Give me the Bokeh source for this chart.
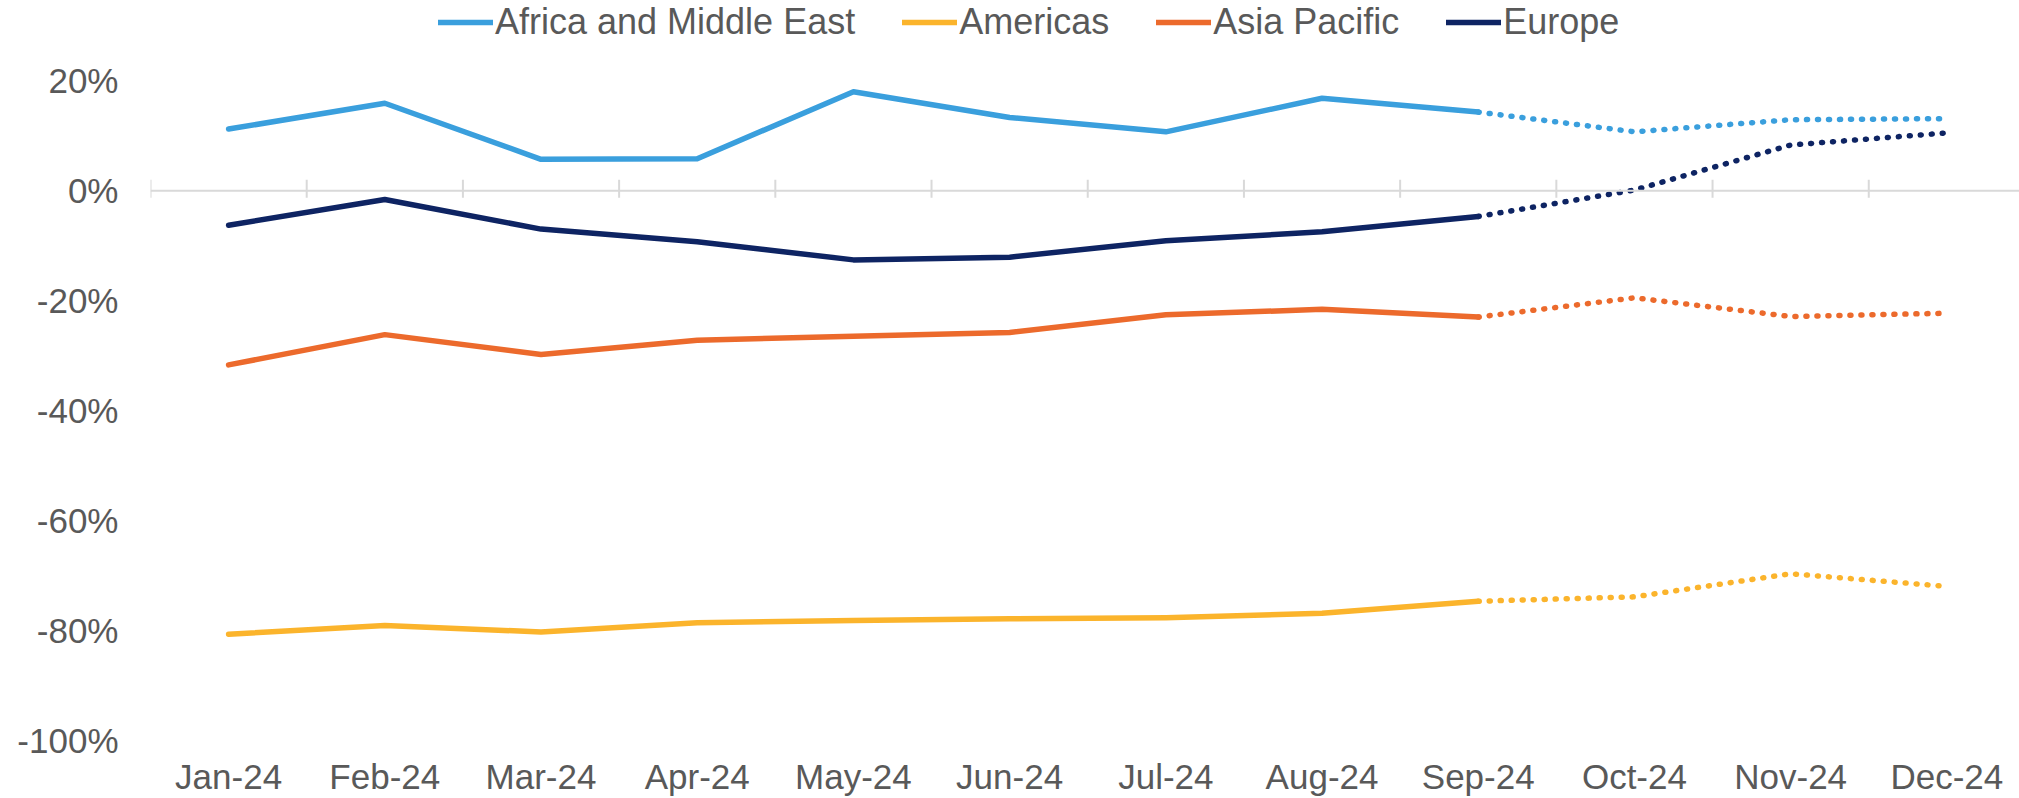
from bokeh.plotting import figure
from bokeh.models import (Range1d, FixedTicker, PrintfTickFormatter, Span,
                          Legend, LegendItem)
from bokeh.embed import file_html
from bokeh.resources import INLINE

months = ["Jan-24", "Feb-24", "Mar-24", "Apr-24", "May-24", "Jun-24",
          "Jul-24", "Aug-24", "Sep-24", "Oct-24", "Nov-24", "Dec-24"]
africa = [11.2, 15.9, 5.7, 5.8, 18.0, 13.3, 10.7, 16.8, 14.3, 10.7, 12.9, 13.1]
americas = [-80.7, -79.1, -80.3, -78.6, -78.2, -77.9, -77.7, -76.9, -74.7, -73.9, -69.7, -72.0]
asia = [-31.7, -26.2, -29.8, -27.2, -26.5, -25.8, -22.6, -21.6, -23.0, -19.5, -22.9, -22.3]
europe = [-6.3, -1.6, -7.0, -9.3, -12.6, -12.1, -9.1, -7.5, -4.7, 0.1, 8.3, 10.5]
y_ticks = [-100, -80, -60, -40, -20, 0, 20]
actual_count = 9  # Jan..Sep actual, Sep..Dec forecast (dotted)

series = [
    ("Africa and Middle East", africa, "#3A9FDD"),
    ("Americas", americas, "#FBB42C"),
    ("Asia Pacific", asia, "#EC6A2C"),
    ("Europe", europe, "#0E2463"),
]

TEXT = "#595959"
FONT = "Liberation Sans"

xs = [i + 0.5 for i in range(len(months))]

p = figure(width=2019, height=798, output_backend="svg", toolbar_location=None,
           x_range=Range1d(0, 11.965), y_range=Range1d(-100.4, 34.59),
           min_border_left=150, min_border_right=0, min_border_top=0,
           min_border_bottom=50)
p.outline_line_color = None
p.xgrid.visible = False
p.ygrid.visible = False

# axes
p.yaxis.ticker = FixedTicker(ticks=y_ticks)
p.yaxis.formatter = PrintfTickFormatter(format="%d%%")
p.yaxis.axis_line_color = None
p.yaxis.major_tick_line_color = None
p.yaxis.minor_tick_line_color = None
p.yaxis.major_label_text_font_size = "35px"
p.yaxis.major_label_text_color = TEXT
p.yaxis.major_label_text_font = FONT
p.yaxis.major_label_standoff = 26

p.xaxis.ticker = FixedTicker(ticks=xs)
p.xaxis.major_label_overrides = {x: m for x, m in zip(xs, months)}
p.xaxis.axis_line_color = None
p.xaxis.major_tick_line_color = None
p.xaxis.minor_tick_line_color = None
p.xaxis.major_label_text_font_size = "35px"
p.xaxis.major_label_text_color = TEXT
p.xaxis.major_label_text_font = FONT
p.xaxis.major_label_standoff = 8

# zero line with category boundary ticks
p.add_layout(Span(location=0, dimension="width", line_color="#D9D9D9", line_width=2))
bounds = list(range(len(months)))
p.segment(x0=bounds, x1=bounds, y0=[2.0] * len(bounds), y1=[-1.3] * len(bounds),
          line_color="#D9D9D9", line_width=2)

items = []
for name, vals, color in series:
    solid = p.line(xs[:actual_count], vals[:actual_count], line_color=color,
                   line_width=5.5, line_join="round", line_cap="round")
    p.line(xs[actual_count - 1:], vals[actual_count - 1:], line_color=color,
           line_width=5.5, line_dash="1 10", line_cap="round", line_join="round")
    items.append(LegendItem(label=name, renderers=[solid]))

legend = Legend(items=items, orientation="horizontal", location=(288, 699),
                label_text_font_size="36px", label_text_color=TEXT,
                label_text_font=FONT, glyph_width=55, glyph_height=20,
                label_standoff=2, spacing=47, padding=0, margin=0,
                border_line_color=None, background_fill_alpha=0)
p.add_layout(legend, "center")

open("out.html", "w").write(file_html(p, INLINE))
